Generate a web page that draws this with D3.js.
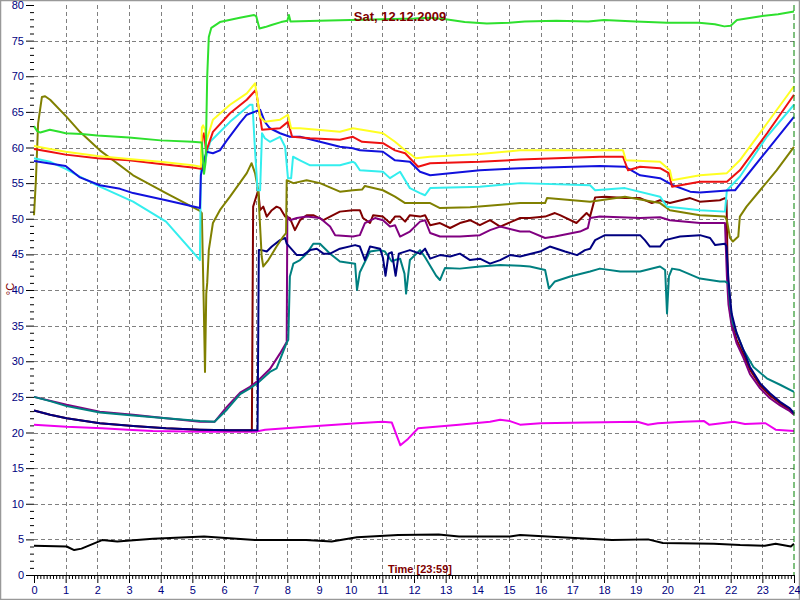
<!DOCTYPE html>
<html><head><meta charset="utf-8">
<script src="https://cdn.jsdelivr.net/npm/d3@7"></script>
<style>html,body{margin:0;padding:0;background:#fff;} svg{display:block;}</style>
</head><body>
<svg id="chart" width="800" height="600"></svg>
<script>
const chartTitle = "Sat, 12.12.2009";
const xAxisTitle = "Time [23:59]";
const yAxisTitle = "°C";
const xTickValues = d3.range(0, 25);
const xTickLabels = xTickValues.map(String);
const yTickValues = d3.range(0, 85, 5);
const yTickLabels = yTickValues.map(String);

// each series: [hour, °C]
const greenSeries = [[0,63],[0.1,62.3],[0.2,62.1],[0.5,62.5],[0.8,62.2],[1,62],[1.5,61.9],[2,61.7],[3,61.4],[4,61.0],[5,60.8],[5.3,60.7],[5.37,56.3],[5.42,58],[5.47,70],[5.52,75.5],[5.6,76.8],[5.87,77.6],[6.5,78.2],[6.95,78.6],[7.02,78.4],[7.12,76.7],[7.3,76.9],[7.5,77.2],[7.8,77.6],[8.0,77.8],[8.05,78.6],[8.1,77.7],[9,77.8],[10,77.9],[11,78.0],[12,78.1],[12.5,78.2],[13,78.0],[13.6,77.6],[14.3,77.4],[15,77.5],[15.5,77.7],[16.5,77.8],[17.5,77.7],[18,77.9],[19,77.7],[20,77.5],[21,77.5],[21.5,77.3],[21.8,77.0],[22.0,77.1],[22.2,77.9],[22.9,78.4],[23.5,78.7],[24,79.1]];
const yellowSeries = [[0,60.2],[0.5,59.8],[1,59.4],[2,58.8],[3,58.4],[4,58.0],[5,57.5],[5.27,57.3],[5.3,62.8],[5.34,63.1],[5.4,62.5],[5.45,61],[5.65,63.9],[6.19,66],[6.72,67.6],[6.98,69],[7.14,64.3],[7.29,63.6],[7.77,63.9],[8.02,64.6],[8.12,62.7],[8.4,62.7],[9.66,62.2],[10.07,62.7],[11.02,62],[11.4,60.8],[11.72,59.6],[12.06,58.5],[12.5,58.7],[14.08,59.1],[15.35,59.6],[16.5,59.6],[17.87,59.6],[18.6,59.6],[18.69,58.2],[19.77,58],[20.08,56.8],[20.15,55.4],[21.03,56.1],[21.88,56.4],[22.29,58.2],[23.15,63.4],[24,68.6]];
const redSeries = [[0,59.8],[0.5,59.4],[1,59],[2,58.5],[3,58.2],[4,57.7],[5,57.2],[5.27,57.0],[5.32,61.5],[5.37,62],[5.42,60],[5.45,59.6],[5.65,62.2],[6.19,64.8],[6.72,66.7],[7.01,68.1],[7.2,62.5],[7.77,62.7],[8.02,63.6],[8.15,61.5],[8.72,61.3],[9.66,61.1],[10.07,61.5],[10.36,60.8],[11.02,60.6],[11.4,59.6],[11.72,59.2],[12.13,57.3],[12.51,57.8],[14.08,58],[15.35,58.3],[17.87,58.7],[18.6,58.7],[18.76,56.8],[19.14,57.3],[19.77,57.1],[20.05,56.4],[20.15,54.5],[21.03,55.2],[21.88,55.2],[22.29,56.8],[23.15,62],[24,67.4]];
const blueSeries = [[0,58.1],[1,57.4],[1.45,55.8],[2.08,54.7],[2.72,54.2],[3.13,53.6],[4.17,52.6],[5.24,51.5],[5.27,56.1],[5.4,58.7],[5.45,59.4],[5.65,59.2],[5.87,59.6],[6.09,61],[6.51,63.5],[6.72,64.6],[7.14,65.3],[7.29,63.6],[7.45,62.7],[7.77,62],[8.08,61.5],[8.4,61.5],[9.03,60.8],[9.66,60.1],[10.07,59.9],[10.29,59.6],[11.02,59.4],[11.4,58.2],[11.87,58],[12.19,56.6],[12.51,56.1],[14.08,56.8],[15.35,57.1],[17.87,57.4],[18.66,57.3],[19.14,56.1],[19.77,55.7],[20.18,54.7],[20.72,53.8],[21.03,53.7],[22.0,54],[22.14,54],[23.15,59.6],[24,64.3]];
const cyanSeries = [[0,58.5],[0.5,58],[1,57],[1.45,55.9],[2.08,54.5],[3.13,52.4],[4.17,49.6],[5.24,44.2],[5.27,57],[5.4,58],[5.56,60.8],[6.19,63.6],[6.82,66],[6.9,66],[6.98,59.6],[7.06,54],[7.14,54],[7.2,62],[7.29,61.3],[7.45,60.8],[7.77,61.5],[7.93,60.1],[8.02,55.7],[8.12,55.7],[8.18,58.7],[8.4,58.2],[8.72,57.5],[9.66,57.5],[10.07,58],[10.14,57.8],[10.29,56.8],[11.02,56.6],[11.24,55.7],[11.56,56.6],[11.87,54.3],[12.19,53.6],[12.35,53.3],[12.51,54.3],[14.08,54.5],[15.35,55],[17.56,54.7],[17.72,54],[18.66,54.3],[19.77,53.1],[19.99,51.7],[20.4,51.5],[21.03,51.2],[21.82,51],[21.88,54],[22.29,55.9],[23.14,61.5],[24,66]];
const oliveSeries = [[0,50.5],[0.06,55.4],[0.13,63.4],[0.25,67.1],[0.35,67.2],[0.51,66.7],[1.03,64.3],[1.45,62.2],[2.08,59.6],[3.13,56.1],[4.17,53.6],[5.24,51.1],[5.3,50.8],[5.36,38],[5.4,28.5],[5.44,39.5],[5.47,41],[5.52,45.6],[5.65,49.4],[5.87,51.2],[6.19,53.1],[6.72,56.4],[6.87,57.8],[6.98,56.4],[7.08,54],[7.19,44.7],[7.24,43.3],[7.4,44.2],[7.66,46.1],[7.87,47.5],[7.96,48],[7.98,55.4],[8.19,55],[8.61,55.4],[9.03,55],[9.66,53.8],[10.07,54],[10.36,54.1],[10.45,54.6],[11.02,54],[11.4,53.1],[11.72,52.2],[12.51,52.2],[12.82,51.5],[13.77,51.6],[15.35,52.2],[16.14,52.2],[16.2,52.9],[17.56,52.4],[18.66,53.1],[19.77,52.2],[20.08,51.2],[21.03,50.5],[21.82,50.3],[21.88,49.8],[21.98,47.3],[22.07,46.8],[22.24,47.5],[22.29,50.3],[22.5,51.7],[22.93,54],[23.45,56.8],[24,60.1]];
const navySeries = [[0,23.1],[0.51,22.5],[1.03,22],[2.08,21.3],[3.13,20.9],[4.17,20.6],[5.24,20.4],[6.19,20.3],[7.06,20.3],[7.1,45.6],[7.19,45.6],[7.35,45.4],[7.51,46.1],[7.77,47],[7.93,47.3],[7.98,46.5],[8.3,44.9],[8.5,44.9],[8.72,45.6],[8.93,45.8],[9.14,45.1],[9.35,45.1],[9.66,45.8],[10.14,46.3],[10.29,46.1],[10.45,44.2],[10.61,46.1],[10.93,45.8],[11.02,44.5],[11.1,42],[11.2,45.1],[11.3,45.3],[11.42,42],[11.52,45.1],[11.87,45.6],[12.19,45.1],[12.35,45.8],[12.51,44.4],[12.82,44.9],[13.14,44.7],[13.45,45.1],[13.77,44.2],[14.08,44.4],[14.4,43.7],[14.72,44.2],[15.03,44.9],[15.35,44.7],[15.98,45.4],[16.29,46.1],[16.77,45.4],[17.15,44.9],[17.4,45.6],[17.56,45.8],[17.72,47],[18.03,47.7],[19.14,47.7],[19.29,47],[19.45,46.1],[19.77,46.1],[19.93,47],[20.4,47.5],[21.03,47.7],[21.35,47.3],[21.51,46.3],[21.82,46.5],[21.87,46.1],[21.93,41.4],[22.03,36.7],[22.19,33.9],[22.4,31.6],[22.61,29.2],[22.93,26.9],[23.24,25.5],[23.56,24.3],[23.87,23.4],[24,22.7]];
const maroonSeries = [[0,23.1],[0.51,22.5],[1.03,22],[2.08,21.3],[3.13,20.9],[4.17,20.6],[5.24,20.4],[6.19,20.3],[6.88,20.3],[6.92,51.7],[7.08,54],[7.14,51.2],[7.24,51.7],[7.35,50.3],[7.51,51.2],[7.66,51.7],[7.77,51.5],[7.93,50.3],[8.08,50.1],[8.24,48.4],[8.4,49.8],[8.61,50.5],[8.82,50.5],[9.14,49.8],[9.35,50.3],[9.66,51],[10.07,51.2],[10.29,51.2],[10.39,50.1],[10.61,49.4],[10.71,50.5],[11.02,50.3],[11.24,49.4],[11.4,50.3],[11.56,50.3],[11.72,49.6],[11.87,50.5],[12.19,50.3],[12.35,50.5],[12.51,49.1],[12.82,49.4],[13.14,48.7],[13.45,49.4],[13.77,49.8],[14.08,49.1],[14.4,49.8],[14.72,48.9],[15.35,50.1],[15.66,50.1],[16.14,50.3],[16.45,50.8],[16.61,50.5],[17.13,49.4],[17.45,50.8],[17.56,50.3],[17.72,53],[18.03,53.1],[18.66,52.9],[19.14,52.9],[19.51,52.2],[19.77,52.6],[20.08,52.2],[20.72,52.9],[21.03,52.4],[21.66,52.6],[21.82,52.9],[21.87,52.6],[21.9,44],[21.95,38],[22.03,35.5],[22.19,33],[22.4,31],[22.61,28.8],[22.93,26.6],[23.24,25.2],[23.56,24.1],[23.87,23.2],[24,22.6]];
const purpleSeries = [[0,25],[1.03,23.9],[2.08,22.9],[3.13,22.5],[4.17,22],[5.24,21.5],[5.7,21.5],[6.09,23.6],[6.51,25.6],[6.82,26.4],[7.08,27.3],[7.45,28.9],[7.77,31.1],[7.98,32.7],[8.0,50.3],[8.08,49.8],[8.3,50.1],[8.61,50.3],[9.03,50.1],[9.35,48.9],[9.51,47.7],[10.07,47.5],[10.29,47.7],[10.45,49.4],[10.77,50.1],[11.02,49.8],[11.24,48.9],[11.4,49.1],[11.56,47.5],[11.87,48.2],[12.19,49.6],[12.35,49.8],[12.51,48],[12.82,47.5],[13.45,47.5],[14.08,47.7],[14.4,48.4],[14.72,48.9],[15.35,48.2],[15.66,48.2],[16.14,47.3],[16.45,47.5],[17.24,48.2],[17.49,48.7],[17.56,50.1],[17.87,50.3],[19.14,50.1],[19.77,50.2],[20.08,49.8],[21.03,49.4],[21.82,49.4],[21.88,42],[21.93,38],[22.03,35],[22.19,32.5],[22.4,30.5],[22.61,28.2],[22.93,26.2],[23.24,24.8],[23.56,23.8],[23.87,23],[24,22.5]];
const tealSeries = [[0,25],[0.51,24.4],[1.03,23.7],[2.08,22.8],[3.13,22.4],[4.17,22],[5.24,21.6],[5.7,21.5],[6.09,23.2],[6.51,25.4],[6.82,26.2],[7.08,27],[7.45,28.5],[7.66,29],[7.98,32.6],[8.03,33],[8.08,41.9],[8.19,43.7],[8.4,44.2],[8.61,45.1],[8.82,46.5],[9.03,46.5],[9.35,45.1],[9.66,44],[10.14,43.7],[10.2,40],[10.29,42.5],[10.61,45.4],[10.93,45.6],[11.08,45.4],[11.3,44],[11.4,44.2],[11.56,44.4],[11.7,42.3],[11.75,39.5],[11.87,44.2],[12.19,45.6],[12.35,44.6],[12.7,42],[12.82,41.4],[12.98,43.1],[13.45,43],[14.08,43.3],[14.72,43.5],[15.35,43.4],[15.66,43.3],[16.14,42.8],[16.26,40.2],[16.45,41.2],[16.93,41.9],[17.56,42.6],[17.87,43],[18.51,42.6],[19.14,42.6],[19.77,43.3],[19.93,42.8],[19.99,36.7],[20.05,41.9],[20.15,43],[20.4,42.8],[21.03,41.6],[21.66,41.2],[21.82,41.2],[21.93,40.9],[21.98,38.1],[22.07,35.3],[22.4,31.6],[22.72,29.2],[23.14,27.6],[23.56,26.7],[24,25.7]];
const magentaSeries = [[0,21.1],[1.03,20.8],[2.15,20.6],[2.95,20.4],[3.75,20.2],[5.37,20.1],[6.98,20.1],[7.3,20.4],[8.59,20.8],[10.2,21.3],[11.0,21.5],[11.3,21.4],[11.57,18.2],[11.81,19.1],[12.13,20.6],[13.42,21.1],[14.4,21.5],[14.72,21.8],[15.03,21.6],[15.35,21.1],[16.0,21.3],[17.45,21.4],[19.06,21.5],[19.39,21.1],[19.7,21.3],[20.5,21.5],[21.16,21.6],[21.32,21.1],[22.1,21.5],[22.45,21.2],[23.1,21.3],[23.42,20.4],[24,20.2]];
const blackSeries = [[0,4.1],[1.03,4.0],[1.27,3.5],[1.5,3.7],[2.15,4.9],[2.63,4.7],[3.76,5.1],[5.37,5.4],[6.98,4.9],[8.59,4.9],[9.4,4.7],[10.2,5.3],[11.5,5.6],[12.78,5.7],[13.42,5.4],[15.03,5.4],[15.35,5.6],[16.64,5.3],[18.25,4.9],[19.39,5.0],[19.86,4.5],[21.47,4.4],[22.3,4.2],[23.08,4.1],[23.42,4.4],[23.9,4.0],[24,4.4]];

const seriesList = [blackSeries, magentaSeries, maroonSeries, purpleSeries, tealSeries, navySeries, oliveSeries, cyanSeries, blueSeries, redSeries, yellowSeries, greenSeries];
const seriesColors = ["#000000", "#ee00ee", "#800000", "#800080", "#008080", "#000080", "#808000", "#33eeee", "#1111dd", "#ee1111", "#ffff22", "#2ee02e"];

const svg = d3.select("#chart");
const x = d3.scaleLinear().domain([0, 24]).range([34, 794]);
const y = d3.scaleLinear().domain([0, 80]).range([575, 5]);

svg.append("rect").attr("x", 0.5).attr("y", 0.5).attr("width", 799).attr("height", 599)
  .attr("fill", "#fff").attr("stroke", "#999").attr("stroke-width", 1.5);

// grid
const grid = svg.append("g").attr("stroke", "#808080").attr("stroke-dasharray", "4,3").attr("stroke-width", 1);
grid.selectAll("line.v").data(xTickValues.filter(d => d > 0 && d < 24)).join("line")
  .attr("x1", d => Math.round(x(d)) + 0.5).attr("x2", d => Math.round(x(d)) + 0.5)
  .attr("y1", y(80)).attr("y2", y(0));
grid.selectAll("line.h").data(yTickValues.filter(d => d > 0 && d < 80)).join("line")
  .attr("class", "h")
  .attr("x1", x(0)).attr("x2", x(24))
  .attr("y1", d => Math.round(y(d)) + 0.5).attr("y2", d => Math.round(y(d)) + 0.5);

// lines
const line = d3.line().x(d => x(d[0])).y(d => y(d[1]));
svg.append("g").selectAll("path").data(seriesList).join("path")
  .attr("d", line).attr("fill", "none")
  .attr("stroke", (d, i) => seriesColors[i])
  .attr("stroke-width", 2).attr("stroke-linejoin", "round");

// current-time marker
svg.append("line").attr("x1", x(24)).attr("x2", x(24)).attr("y1", y(80)).attr("y2", y(0))
  .attr("stroke", "#008000").attr("stroke-width", 1).attr("stroke-dasharray", "6,3");

// axes
const fontFam = "'Liberation Sans Narrow', 'Liberation Sans', Arial, sans-serif";
const xMinor = d3.range(0, 240).map(d => d / 10).filter(d => Math.abs(d - Math.round(d)) > 1e-6);
const xMinorAxis = svg.append("g").attr("transform", `translate(0,${y(0)})`)
  .call(d3.axisBottom(x).tickValues(xMinor).tickSize(4).tickFormat(""));
xMinorAxis.select(".domain").attr("stroke", "#000");
const xMajor = svg.append("g").attr("transform", `translate(0,${y(0)})`)
  .call(d3.axisBottom(x).tickValues(xTickValues).tickSize(8).tickPadding(3).tickFormat((d, i) => xTickLabels[i]));
xMajor.select(".domain").remove();
xMajor.selectAll("text").attr("fill", "#000080").attr("font-size", 11).attr("font-family", fontFam);

const yMinor = d3.range(0, 81).filter(d => d % 5 !== 0);
const yMinorAxis = svg.append("g").attr("transform", `translate(${x(0)},0)`)
  .call(d3.axisLeft(y).tickValues(yMinor).tickSize(4).tickFormat(""));
yMinorAxis.select(".domain").remove();
const yMajor = svg.append("g").attr("transform", `translate(${x(0)},0)`)
  .call(d3.axisLeft(y).tickValues(yTickValues).tickSize(8).tickPadding(2).tickFormat((d, i) => yTickLabels[i]));
yMajor.select(".domain").remove();
yMajor.selectAll("text").attr("fill", "#000080").attr("font-size", 11).attr("font-family", fontFam);

// titles
svg.append("text").attr("x", 400).attr("y", 21).attr("text-anchor", "middle")
  .attr("fill", "#800000").attr("font-size", 13).attr("font-weight", "bold")
  .attr("font-family", "'Liberation Sans', Arial, sans-serif").text(chartTitle);
svg.append("text").attr("x", 420).attr("y", 573).attr("text-anchor", "middle")
  .attr("fill", "#800000").attr("font-size", 11).attr("font-weight", "bold")
  .attr("font-family", "'Liberation Sans', Arial, sans-serif").text(xAxisTitle);
svg.append("text").attr("transform", "translate(14,289) rotate(-90)").attr("text-anchor", "middle")
  .attr("fill", "#800000").attr("font-size", 11)
  .attr("font-family", "'Liberation Sans', Arial, sans-serif").text(yAxisTitle);
</script>
</body></html>
